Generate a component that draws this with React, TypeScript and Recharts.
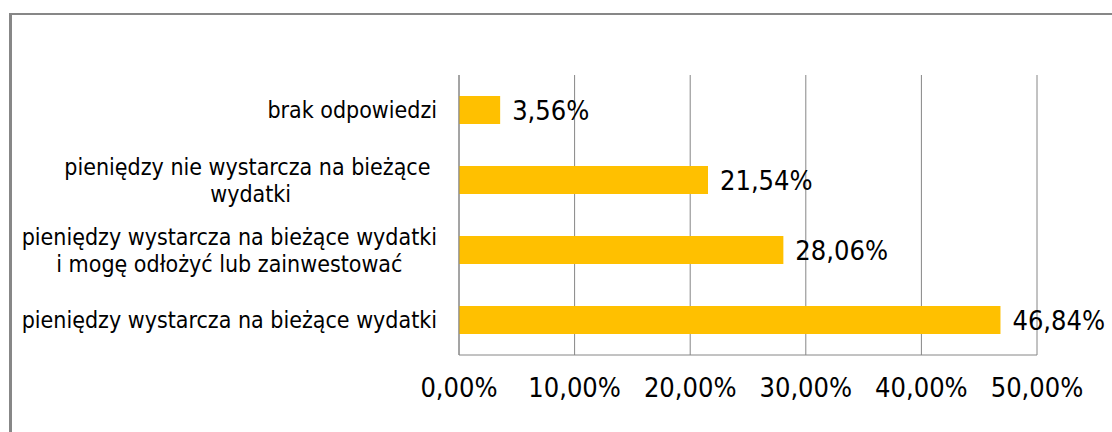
import React from 'react';
import { BarChart, Bar, XAxis, YAxis, CartesianGrid, LabelList } from 'recharts';

// categories top to bottom, "\n" marks the line break used in the original
const categories = [
  'brak odpowiedzi',
  'pieniędzy nie wystarcza na bieżące \nwydatki',
  'pieniędzy wystarcza na bieżące wydatki\ni mogę odłożyć lub zainwestować',
  'pieniędzy wystarcza na bieżące wydatki',
];
const shares = [3.56, 21.54, 28.06, 46.84];
const xTicks = [0, 10, 20, 30, 40, 50];

const data = categories.map((name, i) => ({ name, value: shares[i] }));

const FONT = "'DejaVu Sans Condensed', 'Liberation Sans', sans-serif";
const GRID = '#868686';

const pct = (v: number) => `${v.toFixed(2).replace('.', ',')}%`;

let measureCtx: CanvasRenderingContext2D | null = null;
function textWidth(text: string, font: string) {
  if (!measureCtx) measureCtx = document.createElement('canvas').getContext('2d');
  if (!measureCtx) return text.length * 10;
  measureCtx.font = font;
  return measureCtx.measureText(text).width;
}

function CategoryTick(props: any) {
  const { x, y, payload } = props;
  const size = 23;
  const lines: string[] = String(payload.value).split('\n');
  const widths = lines.map((l) => textWidth(l, `${size}px ${FONT}`));
  const block = Math.max(...widths);
  const cx = x - block / 2;
  const lineH = 27;
  const top = y - ((lines.length - 1) * lineH) / 2;
  return (
    <g>
      {lines.map((l, i) => (
        <text
          key={i}
          x={cx - widths[i] / 2}
          y={top + i * lineH}
          dy="0.35em"
          textAnchor="start"
          fontSize={size}
          fontFamily={FONT}
          fill="#000"
        >
          {l.trim()}
        </text>
      ))}
    </g>
  );
}

export default function App() {
  return (
    <div
      style={{
        position: 'absolute',
        left: 0,
        top: 0,
        width: 1112,
        height: 432,
        overflow: 'hidden',
        background: '#fff',
      }}
    >
      <div
        style={{
          position: 'absolute',
          left: 9,
          top: 13,
          width: 1300,
          height: 600,
          borderLeft: '3px solid #878787',
          borderTop: '2px solid #878787',
        }}
      />
      <div style={{ position: 'absolute', left: 0, top: 0 }}>
        <BarChart
          width={1112}
          height={432}
          data={data}
          layout="vertical"
          margin={{ top: 75, right: 75, bottom: 17, left: 0 }}
          barCategoryGap="30%"
        >
          <CartesianGrid horizontal={false} stroke={GRID} strokeWidth={1} />
          <XAxis
            type="number"
            domain={[0, 50]}
            ticks={xTicks}
            tickFormatter={pct}
            axisLine={{ stroke: GRID }}
            tickLine={false}
            tickSize={0}
            tickMargin={23}
            height={60}
            interval={0}
            tick={{ fontSize: 27, fontFamily: FONT, fill: '#000' }}
          />
          <YAxis
            type="category"
            dataKey="name"
            width={459}
            axisLine={{ stroke: GRID }}
            tickLine={false}
            tickSize={0}
            tickMargin={22}
            interval={0}
            tick={<CategoryTick />}
          />
          <Bar dataKey="value" fill="#FFC000" barSize={28} isAnimationActive={false}>
            <LabelList
              dataKey="value"
              position="right"
              offset={12}
              formatter={(v: any) => pct(Number(v))}
              style={{ fontSize: 27, fontFamily: FONT, fill: '#000' }}
            />
          </Bar>
        </BarChart>
      </div>
    </div>
  );
}
